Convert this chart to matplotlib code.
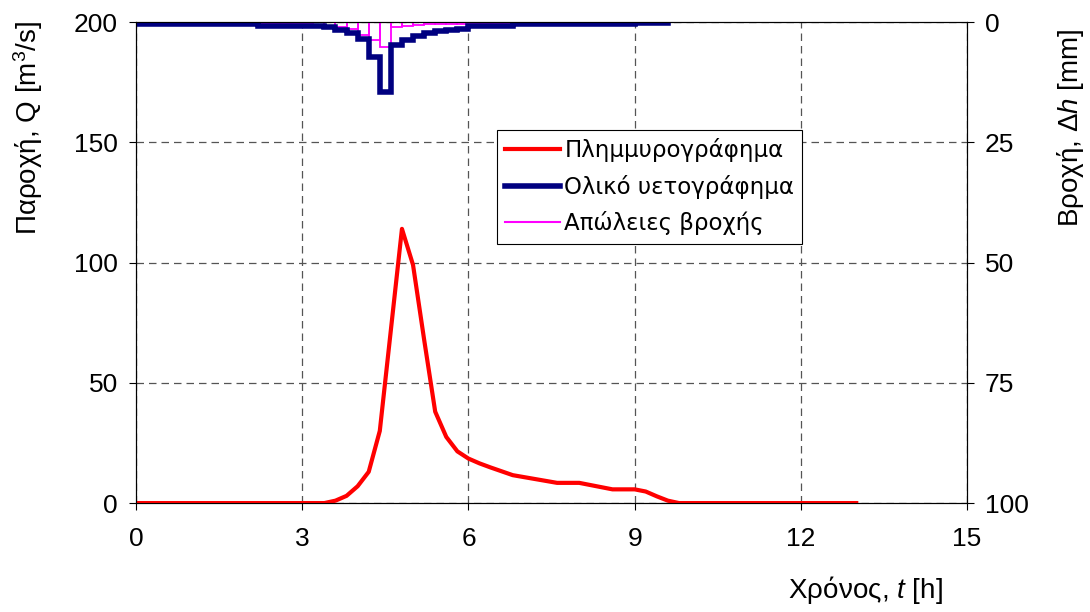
import numpy as np
import matplotlib.pyplot as plt
from matplotlib.lines import Line2D

plt.rcParams['font.family'] = ['Liberation Sans', 'DejaVu Sans']
plt.rcParams['mathtext.fontset'] = 'custom'
plt.rcParams['mathtext.rm'] = 'Liberation Sans'
plt.rcParams['mathtext.it'] = 'Liberation Sans:italic'

#---Hydrograph (every 0.2 h)
t_q = np.round(np.arange(0, 13.01, 0.2), 1)
q = [0]*18 + [1.0, 3.0, 7.0, 13.0, 30.0, 72.0, 114.0, 99.0, 68.0, 38.0,
              27.5, 21.5, 18.5, 16.5, 14.8, 13.2, 11.6, 10.8, 10.0, 9.2,
              8.4, 8.4, 8.4, 7.5, 6.6, 5.7, 5.7, 5.7, 4.8, 2.8, 1.0] + [0]*17

#---Hyetograph (0.2 h steps, 0 - 9.6 h)
t_r = np.round(np.arange(0, 9.61, 0.2), 1)
rain = [0.4]*11 + [0.8]*5 + [0.9, 1.1, 1.6, 2.3, 3.6, 7.2, 14.5, 4.8, 3.7, 2.8,
                   2.3, 1.9, 1.6, 1.4] + [0.8]*4 + [0.4]*11 + [0.2]*3
loss = [0.4]*11 + [0.4]*5 + [0.8, 0.8, 1.0, 1.5, 2.6, 3.8, 5.2, 1.0, 0.8, 0.6,
                   0.5, 0.5, 0.5, 0.5] + [0.5]*4 + [0.4]*11 + [0.2]*3

fig = plt.figure(figsize=(10.9, 6.12), dpi=100)
ax = fig.add_axes([0.1248, 0.178, 0.7624, 0.786])
ax2 = ax.twinx()

ax.plot(t_q, q, '-', color='#FF0000', lw=3, zorder=3)
ax.set_xlim(0, 15)
ax.set_ylim(0, 200)
ax.set_xticks([0, 3, 6, 9, 12, 15])
ax.set_yticks([0, 50, 100, 150, 200])
ax.grid(True, ls=(0, (6, 4)), color='#555555', lw=0.9)
ax.tick_params(labelsize=19, direction='out', length=5, pad=8)
ax.tick_params(axis='x', pad=12)
ax.set_ylabel('Παροχή, Q [m$^3$/s]', fontsize=20, va='center', ha='center')
ax.yaxis.set_label_coords(-0.13, 0.78)
ax.set_xlabel('Χρόνος, $t$ [h]', fontsize=20, va='center', ha='center')
ax.xaxis.set_label_coords(0.878, -0.18)

ax2.step(t_r, rain + [rain[-1]], where='post', color='#000080', lw=4,
         solid_joinstyle='miter')
ax2.bar(t_r[:-1], loss, width=0.2, align='edge', fill=False,
        edgecolor='#FF00FF', lw=1.3)
ax2.set_ylim(100, 0)
ax2.set_yticks([0, 25, 50, 75, 100])
ax2.tick_params(labelsize=19, direction='out', length=5, pad=8)
ax2.set_ylabel('Βροχή, $Δh$ [mm]', fontsize=20, va='center', ha='center')
ax2.yaxis.set_label_coords(1.125, 0.78)

handles = [Line2D([], [], color='#FF0000', lw=3),
           Line2D([], [], color='#000080', lw=4),
           Line2D([], [], color='#FF00FF', lw=1.5)]
leg = ax2.legend(handles, ['Πλημμυρογράφημα', 'Ολικό υετογράφημα', 'Απώλειες βροχής'],
                 loc='upper left', bbox_to_anchor=(0.434, 0.775),
                 prop={'family': 'DejaVu Sans', 'size': 16.5},
                 fancybox=False, edgecolor='black', framealpha=1,
                 handlelength=2.4, handletextpad=0.2, borderpad=0.35,
                 labelspacing=0.55, borderaxespad=0)
leg.get_frame().set_linewidth(0.8)

plt.savefig('out.png')
